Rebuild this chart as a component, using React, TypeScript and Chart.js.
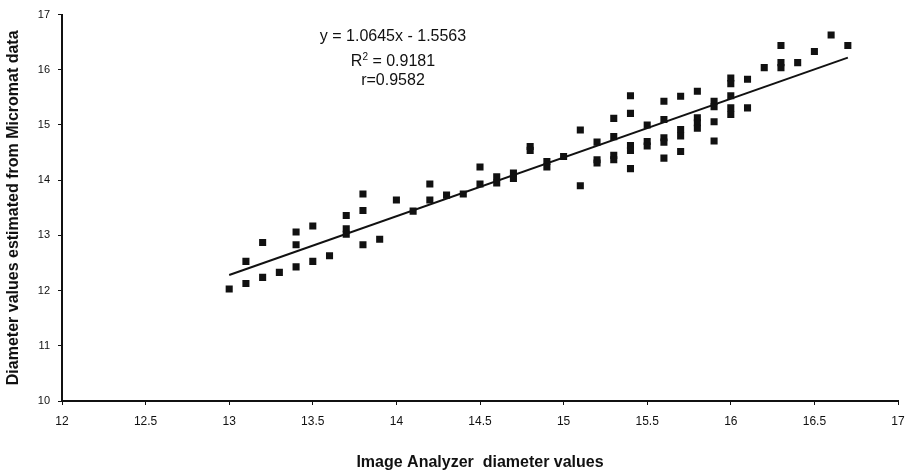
import React, { useEffect, useRef } from "react";
import { Chart, registerables } from "chart.js";

Chart.register(...registerables);

// Observed points (Image Analyzer x, Micromat y)
const xValues = [
  13.0,
  13.1, 13.1,
  13.2, 13.2,
  13.3,
  13.4, 13.4, 13.4,
  13.5, 13.5,
  13.6,
  13.7, 13.7, 13.7,
  13.8, 13.8, 13.8,
  13.9,
  14.0,
  14.1,
  14.2, 14.2,
  14.3,
  14.4,
  14.5, 14.5,
  14.6, 14.6,
  14.7, 14.7,
  14.8, 14.8,
  14.9, 14.9,
  15.0,
  15.1, 15.1,
  15.2, 15.2, 15.2,
  15.3, 15.3, 15.3, 15.3,
  15.4, 15.4, 15.4, 15.4, 15.4,
  15.5, 15.5, 15.5,
  15.6, 15.6, 15.6, 15.6, 15.6,
  15.7, 15.7, 15.7, 15.7,
  15.8, 15.8, 15.8, 15.8,
  15.9, 15.9, 15.9, 15.9,
  16.0, 16.0, 16.0, 16.0, 16.0,
  16.1, 16.1,
  16.2,
  16.3, 16.3, 16.3,
  16.4,
  16.5,
  16.6,
  16.7,
];
const yValues = [
  12.03,
  12.13, 12.53,
  12.24, 12.87,
  12.33,
  12.43, 12.83, 13.06,
  12.53, 13.17,
  12.63,
  13.36, 13.12, 13.02,
  13.75, 13.45, 12.83,
  12.93,
  13.64,
  13.44,
  13.93, 13.64,
  13.73,
  13.75,
  13.93, 14.24,
  14.06, 13.95,
  14.13, 14.03,
  14.61, 14.54,
  14.34, 14.24,
  14.43,
  14.91, 13.9,
  14.69, 14.37, 14.31,
  15.12, 14.79, 14.45, 14.37,
  15.53, 15.21, 14.63, 14.54, 14.21,
  15.0, 14.7, 14.62,
  15.43, 15.1, 14.77, 14.69, 14.4,
  15.52, 14.92, 14.8, 14.52,
  15.61, 15.13, 15.04, 14.94,
  15.43, 15.33, 15.06, 14.71,
  15.85, 15.75, 15.53, 15.31, 15.19,
  15.83, 15.31,
  16.04,
  16.44, 16.13, 16.04,
  16.13,
  16.33,
  16.63,
  16.44,
];

// Linear trend line end points (y = 1.0645x - 1.5563)
const trendX = [13.0, 16.7];
const trendY = [12.2822, 16.2209];

const annotationLines = ["y = 1.0645x - 1.5563", "R2 = 0.9181", "r=0.9582"];
const xTitle = "Image Analyzer  diameter values";
const yTitle = "Diameter values estimated from Micromat data";

const FONT = "Arial, 'Liberation Sans', Helvetica, sans-serif";

const annotationPlugin = {
  id: "eqnText",
  afterDatasetsDraw(chart: any) {
    const { ctx } = chart;
    const cx = 393;
    ctx.save();
    ctx.fillStyle = "#111";
    ctx.textBaseline = "middle";
    ctx.font = `16px ${FONT}`;
    ctx.textAlign = "center";
    ctx.fillText(annotationLines[0], cx, 37);
    const base = "R";
    const rest = " = 0.9181";
    ctx.font = `16px ${FONT}`;
    const wR = ctx.measureText(base).width;
    const wRest = ctx.measureText(rest).width;
    ctx.font = `10px ${FONT}`;
    const wSup = ctx.measureText("2").width;
    const total = wR + wSup + wRest;
    const x0 = cx - total / 2;
    ctx.textAlign = "left";
    ctx.font = `16px ${FONT}`;
    ctx.fillText(base, x0, 62);
    ctx.font = `10px ${FONT}`;
    ctx.fillText("2", x0 + wR, 57);
    ctx.font = `16px ${FONT}`;
    ctx.fillText(rest, x0 + wR + wSup, 62);
    ctx.textAlign = "center";
    ctx.fillText(annotationLines[2], cx, 81);
    ctx.restore();
  },
};

export default function App() {
  const canvasRef = useRef<HTMLCanvasElement | null>(null);

  useEffect(() => {
    if (!canvasRef.current) return;
    const points = xValues.map((x, i) => ({ x, y: yValues[i] }));
    const trend = trendX.map((x, i) => ({ x, y: trendY[i] }));
    const chart = new Chart(canvasRef.current, {
      type: "scatter",
      data: {
        datasets: [
          {
            label: "Trend",
            data: trend,
            showLine: true,
            borderColor: "#111",
            borderWidth: 2,
            pointRadius: 0,
            order: 2,
          },
          {
            label: "Data",
            data: points,
            pointStyle: "rect",
            pointRadius: 5,
            pointHoverRadius: 5,
            backgroundColor: "#111",
            borderWidth: 0,
            order: 1,
          },
        ],
      },
      options: {
        animation: false,
        responsive: true,
        maintainAspectRatio: false,
        layout: { padding: { top: 9, right: 2, left: 0, bottom: 0 } },
        plugins: {
          legend: { display: false },
          tooltip: { enabled: false },
        },
        scales: {
          x: {
            type: "linear",
            min: 12,
            max: 17,
            afterFit: (scale: any) => {
              scale.height = 72;
              scale.paddingRight = 13;
            },
            ticks: {
              stepSize: 0.5,
              color: "#111",
              padding: 9,
              maxRotation: 0,
              font: { family: FONT, size: 12 },
              callback: (v: any) => String(Number(v)),
            },
            grid: {
              drawOnChartArea: false,
              drawTicks: true,
              tickLength: 4,
              color: "#111",
              tickColor: "#111",
            },
            border: { display: true, color: "#111", width: 2 },
            title: {
              display: true,
              text: xTitle,
              color: "#111",
              font: { family: FONT, size: 16, weight: "bold" },
              padding: { top: 0, bottom: 1 },
            },
          },
          y: {
            type: "linear",
            min: 10,
            max: 17,
            afterFit: (scale: any) => {
              scale.width = 62;
            },
            ticks: {
              stepSize: 1,
              color: "#111",
              padding: 8,
              font: { family: FONT, size: 11 },
            },
            grid: {
              drawOnChartArea: false,
              drawTicks: true,
              tickLength: 4,
              color: "#111",
              tickColor: "#111",
            },
            border: { display: true, color: "#111", width: 2 },
            title: {
              display: true,
              text: yTitle,
              color: "#111",
              font: { family: FONT, size: 16, weight: "bold" },
              padding: { top: 4, bottom: 0 },
            },
          },
        },
      },
      plugins: [annotationPlugin],
    });
    return () => chart.destroy();
  }, []);

  return (
    <div style={{ position: "fixed", left: 0, top: 0, width: 911, height: 473, background: "#fff" }}>
      <canvas ref={canvasRef} />
    </div>
  );
}
